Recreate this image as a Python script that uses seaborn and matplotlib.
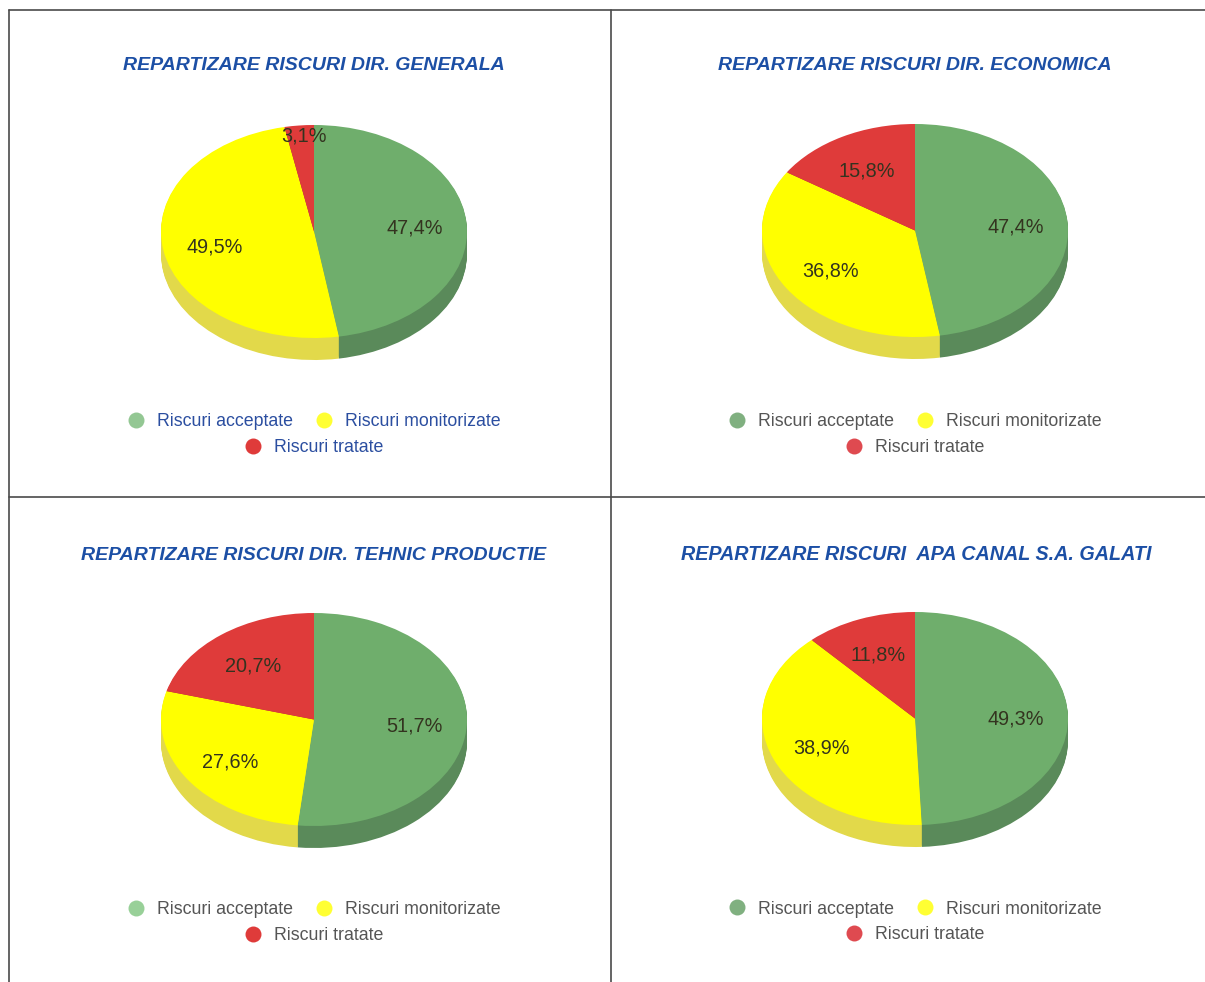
import seaborn as sns
import matplotlib.pyplot as plt
from matplotlib.lines import Line2D

titles = ["REPARTIZARE RISCURI DIR. GENERALA",
          "REPARTIZARE RISCURI DIR. ECONOMICA",
          "REPARTIZARE RISCURI DIR. TEHNIC PRODUCTIE",
          "REPARTIZARE RISCURI  APA CANAL S.A. GALATI"]
categories = ["Riscuri acceptate", "Riscuri monitorizate", "Riscuri tratate"]
generala = [47.4, 49.5, 3.1]
economica = [47.4, 36.8, 15.8]
tehnic = [51.7, 27.6, 20.7]
total = [49.3, 38.9, 11.8]

W, H = 1205, 982
RX, RY, DEPTH = 153, 106.5, 22

sns.set_theme(style="white")
plt.rcParams['font.family'] = ['Liberation Sans', 'DejaVu Sans']

top_colors = sns.color_palette(["#6fae6c", "#ffff00", "#df3b3a"])
side_colors = sns.color_palette(["#5a8a5a", "#e2d94a", "#a83030"])

fig = plt.figure(figsize=(W / 100, H / 100), dpi=100, facecolor="white")

# pie centre, title y, legend y, legend colours per panel
panels = [
    (generala, 314, 231.5, 65, 422, "#2b4ea0", ["#93c793", "#ffff33", "#df3b3a"]),
    (economica, 915, 230.5, 65, 422, "#555555", ["#80b080", "#ffff33", "#df4a50"]),
    (tehnic, 314, 719.5, 555, 910, "#555555", ["#98d098", "#ffff33", "#df3b3a"]),
    (total, 915, 718.5, 555, 909, "#555555", ["#80b080", "#ffff33", "#df4a50"]),
]


def pct_label(p):
    return f"{p:.1f}%".replace(".", ",")


for i, (values, cx, cy, ty, ly, legend_col, dots) in enumerate(panels):
    box_h = RY * 2 + DEPTH
    ax = fig.add_axes([(cx - RX) / W, 1 - (cy + RY + DEPTH) / H, 2 * RX / W, box_h / H])

    # side of the disc, a stack of darker pies going up to the top face
    for k in range(DEPTH, 0, -1):
        ax.pie(values, colors=side_colors, startangle=90, counterclock=False,
               center=(0, -k / RY), wedgeprops={"linewidth": 0})

    wedges, texts, pcts = ax.pie(values, colors=top_colors, startangle=90, counterclock=False,
                                 autopct=pct_label, pctdistance=0.66,
                                 wedgeprops={"linewidth": 0},
                                 textprops={"fontsize": 14.3, "color": "#33331f"})
    for t in pcts:
        x, y = t.get_position()
        t.set_position((x, y - 2.5 / RY))
    if i == 0:
        x, y = pcts[2].get_position()
        pcts[2].set_position((x, 0.895))

    ax.set_aspect("auto")
    ax.set_xlim(-1, 1)
    ax.set_ylim(-1 - DEPTH / RY, 1)
    ax.patch.set_visible(False)

    panel_cx = 313 if cx < 600 else 914
    title_cx = {0: 314, 1: 915, 2: 314, 3: 916}[i]
    fig.text(title_cx / W, 1 - ty / H, titles[i], ha="center", va="center", color="#1c4fa5",
             fontsize=14.2 if i == 3 else 14, fontweight="bold", fontstyle="italic")

    handles = [Line2D([], [], ls="", marker="o", ms=11.5, mew=0, color=c) for c in dots]
    row1 = ax.legend(handles[:2], categories[:2], ncol=2, loc="center", frameon=False,
                     bbox_to_anchor=(panel_cx / W, 1 - ly / H), bbox_transform=fig.transFigure,
                     fontsize=12.75, labelcolor=legend_col, handletextpad=0.6, columnspacing=1.17,
                     handlelength=1.2, borderpad=0, borderaxespad=0)
    ax.add_artist(row1)
    ax.legend(handles[2:], categories[2:], loc="center", frameon=False,
              bbox_to_anchor=(panel_cx / W, 1 - (ly + 25.5) / H), bbox_transform=fig.transFigure,
              fontsize=12.75, labelcolor=legend_col, handletextpad=0.6,
              handlelength=1.2, borderpad=0, borderaxespad=0)

# panel rules
for xs, ys in [((9, W), (10, 10)), ((9, W), (497, 497)), ((9, 9), (10, H)), ((611, 611), (10, H))]:
    fig.add_artist(Line2D([x / W for x in xs], [1 - y / H for y in ys], color="#4a4a4a", lw=1.2))

fig.savefig("out.png", dpi=100)
